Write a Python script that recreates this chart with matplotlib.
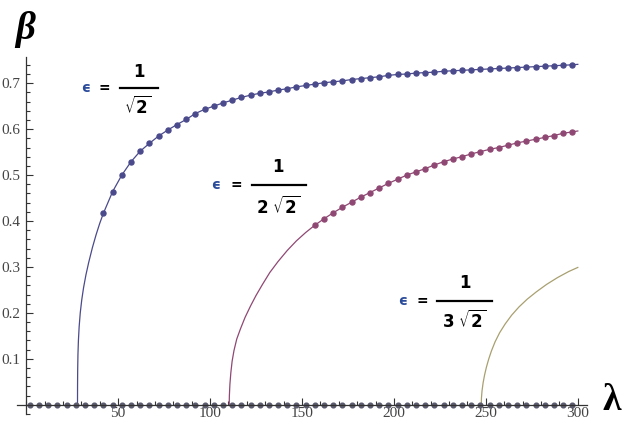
import numpy as np
import matplotlib.pyplot as plt
from matplotlib.lines import Line2D
from matplotlib.ticker import MultipleLocator

# sampled points (dots), every 5 in lambda
lam_axis = list(range(2, 298, 5))
lam_blue = list(range(42, 298, 5))
beta_blue = [0.417, 0.464, 0.500, 0.529, 0.552, 0.569, 0.585, 0.598, 0.610, 0.621,
             0.634, 0.643, 0.650, 0.657, 0.663, 0.669, 0.674, 0.678, 0.681, 0.685,
             0.688, 0.692, 0.695, 0.698, 0.701, 0.703, 0.705, 0.708, 0.710, 0.712,
             0.714, 0.717, 0.719, 0.720, 0.722, 0.723, 0.724, 0.726, 0.727, 0.728,
             0.729, 0.730, 0.731, 0.732, 0.733, 0.734, 0.735, 0.736, 0.737, 0.738,
             0.739, 0.740]
lam_purple = list(range(157, 298, 5))
beta_purple = [0.391, 0.405, 0.418, 0.430, 0.441, 0.452, 0.462, 0.472, 0.482, 0.491,
               0.500, 0.507, 0.514, 0.522, 0.529, 0.535, 0.540, 0.546, 0.551, 0.556,
               0.560, 0.565, 0.570, 0.574, 0.578, 0.582, 0.586, 0.591, 0.594]

# continuous curves: steep starts
lam_blue_head = [27.9, 27.93, 28.0, 28.15, 28.4, 28.8, 29.4, 30.2, 31.2, 32.5, 34, 36, 38, 40]
beta_blue_head = [0.0, 0.04, 0.075, 0.11, 0.14, 0.17, 0.20, 0.228, 0.255, 0.283,
                  0.31, 0.342, 0.37, 0.395]
lam_purple_head = [110.4, 110.5, 110.8, 111.3, 112, 113, 114.5, 116.5, 119, 122, 125,
                   128.5, 132.5, 137, 142, 147, 152]
beta_purple_head = [0.0, 0.02, 0.045, 0.07, 0.095, 0.118, 0.143, 0.165, 0.19, 0.215,
                    0.238, 0.262, 0.288, 0.312, 0.336, 0.357, 0.375]
lam_brown = [247.5, 247.6, 247.9, 248.5, 249.3, 250.3, 251.5, 253, 255, 257.5, 260.5,
             264, 268, 272.5, 277.5, 283, 289, 295, 300]
beta_brown = [0.0, 0.015, 0.03, 0.048, 0.065, 0.082, 0.099, 0.117, 0.137, 0.157, 0.176,
              0.195, 0.213, 0.230, 0.246, 0.262, 0.277, 0.290, 0.299]

fig = plt.figure(figsize=(6.3, 4.23), dpi=100)
ax = fig.add_axes([17/630, 1-414/423, 570/630, 357/423])

blue = '#4a4a8c'
purple = '#8f4873'
brown = '#a8a070'

ax.plot(lam_blue_head + lam_blue + [300], beta_blue_head + beta_blue + [0.741],
        color=blue, lw=0.9)
ax.plot(lam_purple_head + lam_purple + [300], beta_purple_head + beta_purple + [0.596],
        color=purple, lw=0.9)
ax.plot(lam_brown, beta_brown, color=brown, lw=0.9)

ax.plot(lam_blue, beta_blue, 'o', color=blue, ms=3.6)
ax.plot(lam_purple, beta_purple, 'o', color=purple, ms=3.6)
ax.plot(lam_axis, [0]*len(lam_axis), 'o', color='#5a5a6e', ms=3.4, clip_on=False)

ax.set_xlim(-5, 305)
ax.set_ylim(-0.02, 0.757)
for s in ['top', 'right']:
    ax.spines[s].set_visible(False)
ax.spines['left'].set_position(('data', 0))
ax.spines['bottom'].set_position(('data', 0))
for s in ['left', 'bottom']:
    ax.spines[s].set_color('#333333')
    ax.spines[s].set_linewidth(0.9)

ax.set_xticks([50, 100, 150, 200, 250, 300])
ax.set_yticks([0.1, 0.2, 0.3, 0.4, 0.5, 0.6, 0.7])
ax.xaxis.set_minor_locator(MultipleLocator(10))
ax.yaxis.set_minor_locator(MultipleLocator(0.02))
ax.tick_params(which='both', direction='in', color='#333333', width=0.8)
ax.tick_params(which='major', length=5)
ax.tick_params(which='minor', length=3)
ax.tick_params(axis='x', pad=1.5)
ax.tick_params(axis='y', pad=4)
for lab in ax.get_xticklabels() + ax.get_yticklabels():
    lab.set_family('Liberation Serif')
    lab.set_fontsize(11)
    lab.set_color('#444444')

# axis names
fig.text(25/630, 1-30/423, 'β', fontsize=28, ha='center', va='center',
         family='Liberation Serif', style='italic', fontweight='bold')
fig.text(612/630, 1-400/423, 'λ', fontsize=27, ha='center', va='center',
         family='Liberation Serif', fontweight='bold')

# epsilon labels
def eps_label(xe, xq, yb, x0, x1, xn, yn, xd, yd, den):
    fig.text(xe/630, 1-yb/423, 'ϵ', color='#2b4c9b', fontsize=10, fontweight='bold',
             ha='center', va='center', family='DejaVu Sans')
    fig.text(xq/630, 1-yb/423, '=', color='black', fontsize=10, fontweight='bold',
             ha='center', va='center', family='DejaVu Sans')
    fig.add_artist(Line2D([x0/630, x1/630], [1-yb/423, 1-yb/423], color='black', lw=1.6))
    fig.text(xn/630, 1-yn/423, '1', fontsize=12, fontweight='bold', ha='center',
             va='center', family='DejaVu Sans')
    fig.text(xd/630, 1-yd/423, den, fontsize=12, ha='center',
             va='center', family='DejaVu Sans')

eps_label(86, 104, 88, 120, 158, 139, 72, 138, 107, r'$\sqrt{\mathbf{2}}$')
eps_label(216, 236, 185, 252, 306, 278, 167, 278, 207, r'$\mathbf{2}\ \sqrt{\mathbf{2}}$')
eps_label(403, 422, 301, 437, 492, 465, 283, 464, 321, r'$\mathbf{3}\ \sqrt{\mathbf{2}}$')

fig.savefig('out.png', dpi=100)
